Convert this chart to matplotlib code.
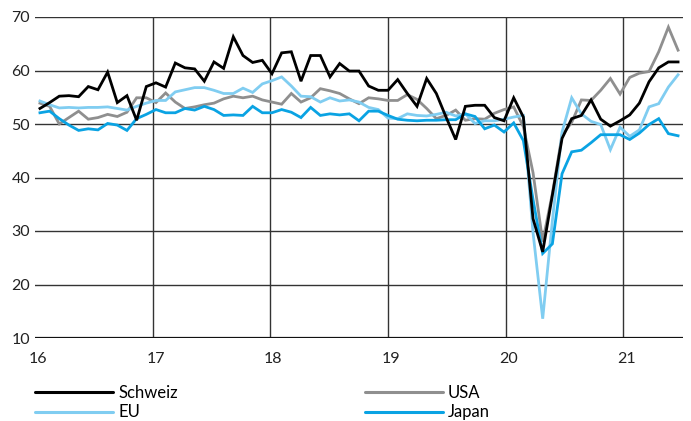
import numpy as np
import matplotlib
matplotlib.use("Agg")
import matplotlib.pyplot as plt
from matplotlib.lines import Line2D
import matplotlib.transforms as mtransforms

plt.rcParams['font.family'] = ['Lato', 'DejaVu Sans']

# Monthly data, Dec 2015 .. Jun 2021
schweiz = [52.9, 54.0, 55.2, 55.3, 55.1, 57.0, 56.4, 59.7, 54.0, 55.3, 50.7, 57.0,
           57.7, 56.9, 61.4, 60.5, 60.3, 58.0, 61.6, 60.4, 66.3, 62.8, 61.5, 61.9,
           59.4, 63.3, 63.5, 58.0, 62.8, 62.8, 58.8, 61.3, 59.9, 59.9, 57.1, 56.3,
           56.3, 58.3, 55.7, 53.3, 58.5, 55.7, 51.3, 47.1, 53.3, 53.5, 53.5, 51.2,
           50.6, 54.9, 51.3, 32.3, 26.1, 36.7, 47.3, 51.0, 51.6, 54.5, 50.9, 49.6,
           50.6, 51.7, 53.9, 57.9, 60.5, 61.6, 61.6]
usa = [53.9, 53.3, 50.0, 51.2, 52.4, 50.9, 51.2, 51.8, 51.4, 52.2, 54.9, 54.9,
       54.0, 55.8, 54.1, 52.9, 53.2, 53.6, 53.9, 54.7, 55.2, 54.9, 55.2, 54.5,
       54.1, 53.7, 55.7, 54.1, 54.9, 56.6, 56.2, 55.7, 54.7, 53.8, 54.9, 54.7,
       54.4, 54.4, 55.5, 54.6, 52.9, 51.0, 51.6, 52.6, 50.7, 51.0, 50.9, 52.0,
       52.7, 53.2, 49.5, 40.9, 28.0, 37.0, 47.9, 50.3, 54.5, 54.4, 56.3, 58.5,
       55.6, 58.7, 59.5, 59.8, 63.5, 68.1, 63.8]
eu = [54.3, 53.6, 53.0, 53.1, 53.0, 53.1, 53.1, 53.2, 52.9, 52.6, 53.3, 53.9,
      54.4, 54.4, 56.0, 56.4, 56.8, 56.8, 56.3, 55.7, 55.7, 56.7, 55.9, 57.5,
      58.1, 58.8, 57.1, 55.2, 55.1, 54.1, 54.9, 54.3, 54.5, 54.1, 53.1, 52.7,
      51.1, 51.0, 51.9, 51.6, 51.5, 51.8, 52.2, 51.5, 51.9, 50.1, 50.6, 50.6,
      50.9, 51.3, 51.6, 29.7, 13.6, 31.9, 48.5, 54.9, 51.9, 50.5, 49.9, 45.2,
      49.4, 47.7, 48.9, 53.2, 53.8, 56.9, 59.2]
japan = [52.1, 52.4, 51.0, 49.8, 48.8, 49.1, 48.9, 50.1, 49.8, 48.8, 51.0, 51.8,
         52.7, 52.1, 52.1, 52.9, 52.6, 53.3, 52.7, 51.6, 51.7, 51.6, 53.3, 52.1,
         52.1, 52.7, 52.2, 51.2, 53.1, 51.6, 51.9, 51.7, 51.9, 50.6, 52.4, 52.4,
         51.6, 50.9, 50.7, 50.6, 50.7, 50.7, 50.8, 50.8, 51.9, 51.4, 49.1, 49.8,
         48.5, 50.2, 46.9, 35.9, 25.8, 27.6, 40.7, 44.8, 45.1, 46.5, 48.0, 48.0,
         48.0, 47.1, 48.3, 49.9, 51.0, 48.2, 47.8]

series_names = ["Schweiz", "EU", "USA", "Japan"]
series_vals = [schweiz, eu, usa, japan]
series_colors = ["#000000", "#80cdf1", "#8f8f8f", "#0aa3e3"]

year_ticks = [16, 17, 18, 19, 20, 21]
year_labels = ["16", "17", "18", "19", "20", "21"]
y_ticks = [10, 20, 30, 40, 50, 60, 70]

W, H = 691, 421
fig = plt.figure(figsize=(W / 100, H / 100), dpi=100)
ax = fig.add_axes([35 / W, 1 - 338 / H, (683 - 35) / W, (338 - 17) / H])

n = len(schweiz)
x = np.linspace(16.042, 21.465, n)

zorders = {"Schweiz": 5, "EU": 3, "USA": 2, "Japan": 4}
for name, vals, col in zip(series_names, series_vals, series_colors):
    ax.plot(x, vals, color=col, lw=2.0, zorder=zorders[name],
            solid_joinstyle='miter')

ax.set_xlim(16, 21.507)
ax.set_ylim(10, 70)
ax.set_xticks(year_ticks)
ax.set_xticklabels(year_labels)
ax.set_yticks(y_ticks)
ax.set_yticklabels([str(v) for v in y_ticks])

for s in ax.spines.values():
    s.set_visible(False)
ax.tick_params(axis='both', length=0, labelsize=11.5, colors='#222222')
ax.tick_params(axis='x', pad=10)
ax.tick_params(axis='y', pad=3.5)

ax.grid(True, color='#333333', lw=1.0, zorder=0)
ax.set_axisbelow(True)
ax.get_xgridlines()[0].set_visible(False)
ax.axhline(10, color='#111111', lw=1.6, zorder=1)

# shift x tick labels slightly right
offset = mtransforms.ScaledTranslation(3 / 100, 0, fig.dpi_scale_trans)
for lab in ax.get_xticklabels():
    lab.set_transform(lab.get_transform() + offset)

leg_handles = [Line2D([], [], color=c, lw=2.2, solid_capstyle='round')
               for c in series_colors]
fig.legend(leg_handles, series_names, ncol=2, loc='upper left',
           bbox_to_anchor=(35 / W, 1 - 385 / H), frameon=False,
           fontsize=12, handlelength=4.7, handletextpad=0.3,
           columnspacing=11.2, labelspacing=0.2, borderpad=0, borderaxespad=0)

fig.savefig("out.png", dpi=100)
